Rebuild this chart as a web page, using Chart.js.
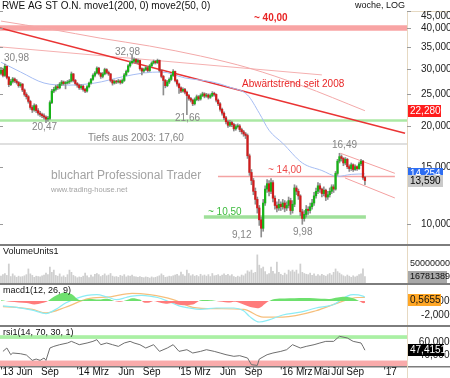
<!DOCTYPE html>
<html>
<head>
<meta charset="utf-8">
<title>RWE AG ST O.N. Wochenchart</title>
<script src="https://cdn.jsdelivr.net/npm/chart.js@4"></script>
<style>
  html, body { margin: 0; padding: 0; background: #fff; }
  #rahmen { position: relative; width: 450px; height: 378px; overflow: hidden; }
  #rahmen canvas { position: absolute; left: 0; }
</style>
</head>
<body>
<div id="rahmen">
  <canvas id="kurs" width="450" height="244" style="top:0"></canvas>
  <canvas id="volumen" width="450" height="39" style="top:244px"></canvas>
  <canvas id="macd" width="450" height="42" style="top:283px"></canvas>
  <canvas id="rsi" width="450" height="53" style="top:325px"></canvas>
</div>
<script>
const SCHRIFT = '"Liberation Sans", Arial, sans-serif';

// Wochen ab 15.03.2013 - 208 Spalten, die letzten bleiben leer (Platz bis '17)
const wochen = [];
let tag = new Date(Date.UTC(2013, 2, 15));
for (let i = 0; i < 208; i++) {
    wochen.push(tag.toISOString().slice(0, 10));
    tag = new Date(tag.getTime() + 7 * 86400000);
}

// Achsenbeschriftung unten
const monatsTexte = ["'13 Jun", "Sep", "'14 Mrz", "Jun", "Sep", "'15 Mrz", "Jun", "Sep", "'16 Mrz", "Mai", "Jul", "Sep", "'17"];
const monatsDaten = ['2013-06-01', '2013-09-01', '2014-03-01', '2014-06-01', '2014-09-01', '2015-03-01', '2015-06-01', '2015-09-01', '2016-03-01', '2016-05-01', '2016-07-01', '2016-09-01', '2017-01-01'];

// Kursachse (log)
const kursTicks = [10, 15, 20, 25, 30, 35, 40, 45];

// Wochenkerzen
const eroeffnung = [
    29.0,29.9,28.6,30.5,28.2,26.8,27.4,27.9,27.5,27.2,
    26.6,26.9,25.8,25.0,24.6,23.8,22.8,22.4,23.1,22.3,
    21.9,21.7,21.5,21.3,21.0,21.1,23.6,25.6,25.9,26.4,
    26.2,26.9,27.3,27.0,27.1,27.3,27.5,28.9,27.6,27.0,
    26.7,26.2,26.5,25.9,25.6,26.4,27.1,27.8,28.6,29.1,
    30.1,29.0,28.4,28.9,29.8,29.2,28.9,27.6,27.1,27.4,
    27.3,27.5,27.2,27.6,28.7,29.4,30.6,31.3,31.6,32.0,
    31.4,31.8,30.0,29.5,29.8,30.2,29.6,30.6,31.2,31.6,
    31.3,31.8,29.6,28.4,27.6,26.6,27.3,27.8,28.6,29.4,
    27.6,26.9,26.2,25.6,25.9,25.4,24.8,24.3,24.0,23.4,
    24.1,24.6,24.2,24.8,25.1,24.7,24.9,24.5,24.8,25.2,
    25.0,24.0,23.4,22.5,21.9,21.2,20.6,20.1,20.5,20.2,
    19.6,19.9,20.0,19.5,19.2,18.9,18.7,16.2,14.4,13.6,
    12.6,11.9,11.2,10.3,9.7,11.6,12.8,13.3,12.6,13.4,
    12.0,11.4,11.2,11.5,11.3,11.6,11.2,11.4,11.8,11.0,
    11.5,12.9,12.6,12.2,10.9,10.4,10.7,11.1,11.0,11.3,
    11.6,12.2,12.6,13.1,12.8,12.4,12.7,12.1,12.3,12.6,
    13.0,12.8,14.3,15.6,16.1,15.9,15.4,15.8,15.0,14.8,
    15.2,14.7,15.0,14.8,15.3,15.6,13.9
];
const hoch = [
    30.3,30.1,30.98,30.6,28.4,27.8,28.2,28.1,27.8,27.4,
    27.2,27.0,26.0,25.3,24.8,24.0,23.1,23.4,23.3,22.6,
    22.2,21.9,21.8,21.5,21.4,23.9,25.9,26.3,26.7,26.8,
    27.2,27.6,27.5,27.4,27.6,27.8,29.3,29.0,27.8,27.2,
    26.9,26.8,26.7,26.1,26.6,27.3,28.0,28.9,29.4,30.4,
    30.3,29.2,29.2,30.1,30.0,29.5,29.0,27.8,27.7,27.6,
    27.8,27.7,27.9,29.0,29.7,30.9,31.7,32.98,32.4,32.2,
    32.1,31.9,30.2,30.1,30.5,30.4,30.9,31.5,31.9,31.8,
    32.1,31.9,29.8,28.6,27.8,27.6,28.1,28.9,29.8,29.5,
    27.8,27.1,26.4,26.2,26.1,25.6,25.0,24.5,24.2,24.4,
    24.9,24.8,25.1,25.4,25.3,25.2,25.1,25.1,25.5,25.4,
    25.1,24.2,23.6,22.7,22.1,21.4,20.8,20.8,20.7,20.4,
    20.2,20.3,20.2,19.7,19.4,19.1,18.9,16.4,14.7,13.8,
    12.9,12.1,11.4,10.5,11.9,13.1,13.7,13.6,13.8,13.6,
    12.2,11.7,11.9,11.7,11.9,11.8,11.7,12.1,12.0,11.8,
    13.2,13.1,12.8,12.3,11.1,11.0,11.4,11.3,11.6,11.9,
    12.5,12.9,13.4,13.3,12.9,13.0,12.8,12.6,12.9,13.2,
    13.2,14.5,15.8,16.49,16.3,16.0,16.0,15.9,15.2,15.4,
    15.3,15.2,15.1,15.5,15.8,15.7,14.0
];
const tief = [
    28.7,28.3,28.4,27.9,26.4,26.6,27.1,27.2,26.9,26.3,
    26.3,25.5,24.7,24.2,23.5,22.5,22.0,22.2,22.0,21.6,
    21.4,21.2,21.0,20.47,20.7,20.9,23.4,25.3,25.6,25.9,
    26.0,26.6,26.7,26.0,26.9,27.0,27.3,27.3,26.7,26.3,
    25.9,25.9,25.6,25.3,25.4,26.2,26.9,27.6,28.3,28.9,
    28.7,28.0,28.1,28.7,28.9,28.6,27.3,26.7,26.9,27.0,
    27.1,26.9,27.0,27.4,28.5,29.2,30.3,31.0,31.3,31.1,
    31.2,29.7,28.7,29.2,29.6,29.3,29.4,30.4,31.0,31.0,
    31.1,29.3,28.1,24.9,26.2,26.4,27.0,27.6,28.4,27.3,
    26.5,25.2,25.3,25.4,25.1,21.66,24.0,23.7,23.1,23.2,
    23.9,23.9,24.0,24.6,24.4,24.5,24.2,24.3,24.6,24.7,
    23.7,23.1,22.2,21.6,20.9,20.3,19.8,19.9,19.9,19.3,
    19.4,19.7,19.2,18.9,18.6,18.3,15.9,14.1,13.2,12.3,
    11.5,10.8,9.9,9.12,9.5,11.4,12.5,12.2,12.4,11.7,
    11.1,10.9,11.0,11.0,11.1,10.9,11.0,11.2,10.7,10.8,
    11.3,12.3,11.9,10.6,9.98,10.2,10.5,10.7,10.8,11.1,
    11.4,12.0,12.4,12.5,12.1,12.2,11.8,11.9,12.1,12.4,
    12.5,12.7,14.1,15.4,15.6,15.1,15.2,14.8,14.5,14.6,
    14.5,14.6,14.6,14.7,15.1,13.7,13.2
];
const schluss = [
    29.9,28.6,30.5,28.2,26.8,27.4,27.9,27.5,27.2,26.6,
    26.9,25.8,25.0,24.6,23.8,22.8,22.4,23.1,22.3,21.9,
    21.7,21.5,21.3,21.0,21.1,23.6,25.6,25.9,26.4,26.2,
    26.9,27.3,27.0,27.1,27.3,27.5,28.9,27.6,27.0,26.7,
    26.2,26.5,25.9,25.6,26.4,27.1,27.8,28.6,29.1,30.1,
    29.0,28.4,28.9,29.8,29.2,28.9,27.6,27.1,27.4,27.3,
    27.5,27.2,27.6,28.7,29.4,30.6,31.3,31.6,32.0,31.4,
    31.8,30.0,29.5,29.8,30.2,29.6,30.6,31.2,31.6,31.3,
    31.8,29.6,28.4,27.6,26.6,27.3,27.8,28.6,29.4,27.6,
    26.9,26.2,25.6,25.9,25.4,24.8,24.3,24.0,23.4,24.1,
    24.6,24.2,24.8,25.1,24.7,24.9,24.5,24.8,25.2,25.0,
    24.0,23.4,22.5,21.9,21.2,20.6,20.1,20.5,20.2,19.6,
    19.9,20.0,19.5,19.2,18.9,18.7,16.2,14.4,13.6,12.6,
    11.9,11.2,10.3,9.7,11.6,12.8,13.3,12.6,13.4,12.0,
    11.4,11.2,11.5,11.3,11.6,11.2,11.4,11.8,11.0,11.5,
    12.9,12.6,12.2,10.9,10.4,10.7,11.1,11.0,11.3,11.6,
    12.2,12.6,13.1,12.8,12.4,12.7,12.1,12.3,12.6,13.0,
    12.8,14.3,15.6,16.1,15.9,15.4,15.8,15.0,14.8,15.2,
    14.7,15.0,14.8,15.3,15.6,13.9,13.59
];

const ma200Idx = [0, 25, 51, 76, 102, 127, 153, 186];
const ma200Werte = [42.0, 39.7, 37.2, 35.2, 32.8, 30.1, 26.7, 22.28];
const ma50Idx = [0, 10, 22, 34, 48, 62, 73, 82, 94, 108, 117, 126, 132, 137, 144, 154, 164, 172, 179, 186];
const ma50Werte = [31.4, 29.3, 27.1, 26.7, 27.1, 28.3, 29.1, 29.3, 28.1, 27.3, 26.3, 24.9, 21.9, 19.4, 17.7, 15.4, 14.6, 14.0, 14.2, 14.254];

// eingezeichnete Marken (Kurswerte) und Trendlinien [Wochenindex, Kurs]
const widerstand40 = 40.0;
const unterstuetzung = 20.8;
const tief2003 = 17.60;
const marke14 = 14.00;
const marke1050 = 10.50;
const abwaertstrend = [[-0.5, 40.0], [206.5, 19.0]];
const trendHell = [[-0.5, 35.0], [164, 28.7]];
const kanalOben = [[173.5, 16.49], [201.3, 14.31]];
const kanalUnten = [[175.8, 13.85], [201.3, 12.02]];

// Volumen in Mio. Stück
const volumenMio = [
    18,22,25,20,50,17,24,19,15,18,
    16,17,19,22,37,24,20,15,18,17,
    16,19,21,26,22,42,28,34,20,18,
    24,16,19,15,22,34,28,20,17,14,
    16,15,18,26,19,14,21,16,23,25,
    22,17,20,24,19,21,25,18,16,17,
    15,20,18,22,16,19,18,21,17,16,
    15,17,15,14,16,15,13,16,14,15,
    17,19,24,20,15,16,18,17,19,21,
    23,19,29,22,18,34,25,19,22,18,
    20,17,23,19,21,18,22,17,25,19,
    20,22,18,21,24,20,23,19,22,17,
    15,18,16,21,19,24,32,29,34,26,
    28,74,47,38,42,30,22,25,42,31,
    24,55,28,23,20,26,22,34,30,34,
    29,34,24,50,28,25,23,22,26,20,
    24,18,22,19,23,20,18,22,25,21,
    28,37,30,26,22,19,17,21,18,15,
    19,16,18,22,24,37,16.781389
];

// MACD (12, 26, 9)
const macdIdx = [1, 8, 16, 23, 28, 33, 39, 44, 49, 54, 59, 64, 67, 72, 76, 80, 85, 91, 96, 102, 110, 119, 124, 127, 132, 137, 144, 153, 161, 170, 177, 180, 185, 186];
const macdWerte = [-0.7, -0.9, -1.3, -1.8, -1.2, -0.3, 0.4, 0.8, 0.9, 0.6, 0.2, 0.5, 0.7, 0.8, 0.7, 0.5, 0.0, -0.7, -1.0, -1.2, -1.0, -1.0, -1.4, -2.2, -3.0, -2.7, -2.0, -1.6, -1.0, -0.5, 0.7, 0.9, 0.7, 0.5655];
const signalIdx = [1, 8, 16, 23, 33, 44, 56, 67, 76, 88, 98, 110, 124, 134, 144, 161, 173, 182, 186];
const signalWerte = [-0.8, -0.9, -1.2, -1.7, -0.9, 0.3, 0.6, 1.1, 0.9, 0.2, -0.9, -1.1, -1.2, -2.3, -2.3, -1.4, -0.2, 0.5, 0.5];
const histIdx = [0, 5, 13, 17, 21, 24, 27, 32, 36, 39, 41, 45, 50, 55, 58, 61, 64, 67, 71, 73, 76, 78, 82, 85, 88, 90, 94, 98, 100, 102, 107, 110, 116, 120, 124, 128, 132, 135, 137, 140, 150, 160, 168, 172, 176, 180, 183, 185, 186];
const histWerte = [0.1, -0.1, -0.3, -0.5, -0.3, 0, 0.6, 1.2, 1.0, 0.3, 0.1, 0.3, 0.2, 0.3, 0, -0.1, 0.1, 0.4, 0.2, -0.2, -0.2, 0, -0.3, -0.4, -0.3, -0.5, -0.6, -0.5, -0.2, 0.1, 0.1, 0, -0.2, -0.1, -0.5, -0.9, -1.0, -0.4, 0, 0.3, 0.4, 0.4, 0.3, 0.5, 0.6, 0.4, 0, -0.3, -0.3];

// RSI (14, 70, 30, 1)
const rsiIdx = [1,3,5,6,10,13,16,18,20,22,23,25,27,30,34,36,38,40,44,47,49,51,54,57,60,63,66,68,71,74,78,81,85,88,91,95,98,102,105,109,112,115,119,122,126,128,131,132,136,139,143,146,149,153,156,160,163,166,170,172,173,177,180,184,185,186];
const rsiWerte = [45.6,50.8,40.5,43.1,42.0,40.0,31.8,33.8,31.8,35.4,31.8,50.8,53.3,55.9,58.5,61.0,58.5,55.9,58.5,61.0,63.6,55.9,58.5,55.9,53.3,58.5,61.0,58.5,55.9,50.8,55.9,45.6,50.8,55.9,45.6,48.2,43.1,45.6,48.2,45.6,43.1,40.5,38.0,39.0,35.4,25.1,24.0,33.8,40.5,43.1,45.6,48.2,55.9,50.8,53.3,55.9,58.5,61.0,61.0,66.2,68.8,66.2,61.0,58.5,53.3,47.4151];
const rsiBandOben = [64.8, 70.5];
const rsiBandUnten = [23.1, 31.5];

// kurze Prüfung, damit nichts verrutscht
[[eroeffnung, 'eroeffnung'], [hoch, 'hoch'], [tief, 'tief'], [volumenMio, 'volumen']].forEach(([a, n]) => {
    if (a.length !== schluss.length) throw new Error(n + ' hat ' + a.length + ' statt ' + schluss.length);
});
[[ma200Idx, ma200Werte], [ma50Idx, ma50Werte], [macdIdx, macdWerte], [signalIdx, signalWerte], [histIdx, histWerte], [rsiIdx, rsiWerte]].forEach(([a, b], k) => {
    if (a.length !== b.length) throw new Error('Stützpunkte ' + k + ': ' + a.length + '/' + b.length);
});

const GRUEN = '#17b317';
const ROT = '#d01c1c';
const letzte = schluss.length - 1;

//---------------- Hilfsfunktionen ----------------
function punkte(idx, werte) {
    return idx.map((i, k) => ({ x: wochen[i], y: werte[k] }));
}
function schreibe(ctx, txt, x, y, farbe, font, align) {
    ctx.font = font;
    ctx.fillStyle = farbe;
    ctx.textAlign = align || 'left';
    ctx.textBaseline = 'middle';
    ctx.fillText(txt, x, y);
}
function strich(ctx, x1, y1, x2, y2, farbe, breite) {
    ctx.beginPath();
    ctx.strokeStyle = farbe;
    ctx.lineWidth = breite;
    ctx.moveTo(x1, y1);
    ctx.lineTo(x2, y2);
    ctx.stroke();
}
function wertBox(ctx, txt, y, hg, vg, breite, font) {
    ctx.fillStyle = hg;
    ctx.fillRect(408, Math.round(y) - 6, breite, 12);
    schreibe(ctx, txt, 410, Math.round(y), vg, font || '10px ' + SCHRIFT);
}
function komma(v, n) {
    return v.toFixed(n).replace('.', ',');
}
function trenner(ctx, y) {
    ctx.fillStyle = '#7d7d7d';
    ctx.fillRect(0, y, 450, 2);
}
function basisOptionen(yAchse, untenPlatz) {
    return {
        responsive: false,
        animation: false,
        events: [],
        layout: { padding: { left: 0, right: 43, top: 0, bottom: untenPlatz || 0 } },
        plugins: { legend: { display: false }, tooltip: { enabled: false } },
        scales: {
            x: { type: 'category', offset: true, display: false },
            y: yAchse
        }
    };
}

//---------------- Kurs ----------------
const kursDeko = {
    id: 'kursDeko',
    beforeDatasetsDraw(chart) {
        const { ctx, chartArea: a, scales: { x, y } } = chart;
        const px = i => x.getPixelForValue(i);
        ctx.save();
        ctx.beginPath();
        ctx.rect(a.left, a.top, a.right - a.left, a.bottom - a.top);
        ctx.clip();

        // Wasserzeichen
        schreibe(ctx, 'bluchart Professional Trader', 51, 176, '#a3a3a3', '12px ' + SCHRIFT);
        schreibe(ctx, 'www.trading-house.net', 51, 190, '#a3a3a3', '7.5px ' + SCHRIFT);

        // waagrechte Marken
        ctx.lineCap = 'butt';
        strich(ctx, a.left, y.getPixelForValue(widerstand40), a.right, y.getPixelForValue(widerstand40), '#f8a4a4', 5.5);
        strich(ctx, a.left, y.getPixelForValue(unterstuetzung), a.right, y.getPixelForValue(unterstuetzung), '#abe8a4', 2.5);
        strich(ctx, a.left, y.getPixelForValue(tief2003), a.right, y.getPixelForValue(tief2003), '#d4d4d4', 1.5);
        strich(ctx, px(110.9), y.getPixelForValue(marke14), px(201.3), y.getPixelForValue(marke14), '#f4a3a3', 1.5);
        strich(ctx, px(103.7), y.getPixelForValue(marke1050), px(186.5), y.getPixelForValue(marke1050), '#9fe09a', 3.5);

        // Trendlinien
        const linie = (p, farbe, breite) => strich(ctx, px(p[0][0]), y.getPixelForValue(p[0][1]), px(p[1][0]), y.getPixelForValue(p[1][1]), farbe, breite);
        linie(trendHell, '#f5b0b0', 1);
        linie(kanalOben, '#f4a0a0', 1);
        linie(kanalUnten, '#f4a0a0', 1);
        linie(abwaertstrend, '#ea3434', 1.5);
        ctx.restore();
    },
    afterDraw(chart) {
        const { ctx, scales: { y } } = chart;
        ctx.save();
        const grau = '#858585';
        const f10 = '10px ' + SCHRIFT;

        // Beschriftungen im Chart
        schreibe(ctx, '~ 40,00', 254, 18, '#e82626', 'bold 10px ' + SCHRIFT);
        schreibe(ctx, 'Abwärtstrend seit 2008', 242, 84, '#e82626', f10);
        schreibe(ctx, '~ 14,00', 268, 170, '#ee4a4a', f10);
        schreibe(ctx, '~ 10,50', 208, 212, '#3dbb3d', f10);
        schreibe(ctx, '30,98', 4, 58, grau, f10);
        schreibe(ctx, '32,98', 115, 52, grau, f10);
        schreibe(ctx, '20,47', 32, 127, grau, f10);
        schreibe(ctx, '21,66', 175, 118, grau, f10);
        schreibe(ctx, 'Tiefs aus 2003: 17,60', 88, 138, grau, f10);
        schreibe(ctx, '16,49', 332, 145, grau, f10);
        schreibe(ctx, '9,12', 232, 235, grau, f10);
        schreibe(ctx, '9,98', 293, 232, grau, f10);

        // Kopfzeile
        ctx.fillStyle = '#fff';
        ctx.fillRect(408, 0, 42, 11);
        schreibe(ctx, 'RWE AG ST O.N. move1(200, 0) move2(50, 0)', 2, 6, '#111', '10px ' + SCHRIFT);
        schreibe(ctx, 'woche, LOG', 405, 6, '#111', '9px ' + SCHRIFT, 'right');

        // rechte Achse
        strich(ctx, 407.5, 11, 407.5, 244, '#e6d9c2', 1);
        strich(ctx, 407, 11.5, 450, 11.5, '#e6d9c2', 1);
        kursTicks.forEach(v => {
            const py = Math.round(y.getPixelForValue(v)) + 0.5;
            strich(ctx, 0, py, 3, py, '#9a9a9a', 1);
            strich(ctx, 407, py, 411, py, '#9a9a9a', 1);
            schreibe(ctx, komma(v, 3), 421, Math.max(py, 16), '#222', f10);
        });
        wertBox(ctx, komma(ma200Werte[ma200Werte.length - 1], 3), y.getPixelForValue(ma200Werte[ma200Werte.length - 1]), '#ff1c1c', '#fff', 33);
        wertBox(ctx, komma(ma50Werte[ma50Werte.length - 1], 3), y.getPixelForValue(ma50Werte[ma50Werte.length - 1]), '#2d6df2', '#fff', 35);
        wertBox(ctx, komma(schluss[letzte], 3), y.getPixelForValue(schluss[letzte]), '#c9c9c9', '#000', 35);
        ctx.restore();
    }
};

new Chart(document.getElementById('kurs'), {
    type: 'bar',
    data: {
        labels: wochen,
        datasets: [
            {
                label: 'Kerzenkörper',
                data: schluss.map((c, i) => [eroeffnung[i], c]),
                backgroundColor: schluss.map((c, i) => c >= eroeffnung[i] ? GRUEN : ROT),
                barThickness: 1.6,
                minBarLength: 1,
                grouped: false,
                order: 0
            },
            {
                label: 'Dochte',
                data: hoch.map((h, i) => [tief[i], h]),
                backgroundColor: '#8e8e8e',
                barThickness: 1,
                grouped: false,
                order: 1
            },
            {
                type: 'line',
                label: 'move1(200, 0)',
                data: punkte(ma200Idx, ma200Werte),
                borderColor: '#f3a9a9',
                borderWidth: 1,
                pointRadius: 0,
                cubicInterpolationMode: 'monotone',
                order: 3
            },
            {
                type: 'line',
                label: 'move2(50, 0)',
                data: punkte(ma50Idx, ma50Werte),
                borderColor: '#a6bdf3',
                borderWidth: 1,
                pointRadius: 0,
                cubicInterpolationMode: 'monotone',
                order: 2
            }
        ]
    },
    options: basisOptionen({ type: 'logarithmic', display: false, min: 8.681, max: 48.75 }),
    plugins: [kursDeko]
});

//---------------- Volumen ----------------
const volDeko = {
    id: 'volDeko',
    afterDraw(chart) {
        const { ctx, scales: { y } } = chart;
        ctx.save();
        trenner(ctx, 0);
        strich(ctx, 407.5, 2, 407.5, 39, '#e6d9c2', 1);
        schreibe(ctx, 'VolumeUnits1', 3, 8, '#111', '9px ' + SCHRIFT);
        schreibe(ctx, '50000000', 410, y.getPixelForValue(50), '#222', '9px ' + SCHRIFT);
        wertBox(ctx, String(Math.round(volumenMio[letzte] * 1e6)), Math.min(y.getPixelForValue(volumenMio[letzte]) + 2, 33), '#a8a8a8', '#111', 39, '9px ' + SCHRIFT);
        ctx.restore();
    }
};

new Chart(document.getElementById('volumen'), {
    type: 'bar',
    data: {
        labels: wochen,
        datasets: [{
            label: 'VolumeUnits1',
            data: volumenMio,
            backgroundColor: '#cfcfcf',
            barThickness: 1.1
        }]
    },
    options: basisOptionen({ type: 'linear', display: false, min: 0, max: 102.6 }),
    plugins: [volDeko]
});

//---------------- MACD ----------------
const macdDeko = {
    id: 'macdDeko',
    afterDraw(chart) {
        const { ctx, scales: { y } } = chart;
        ctx.save();
        trenner(ctx, 0);
        strich(ctx, 407.5, 2, 407.5, 42, '#e6d9c2', 1);
        schreibe(ctx, 'macd1(12, 26, 9)', 3, 8, '#111', '9px ' + SCHRIFT);
        schreibe(ctx, '0,0000', 455, y.getPixelForValue(0), '#222', '10px ' + SCHRIFT, 'right');
        schreibe(ctx, '-2,0000', 455, y.getPixelForValue(-2), '#222', '10px ' + SCHRIFT, 'right');
        wertBox(ctx, komma(macdWerte[macdWerte.length - 1], 4), y.getPixelForValue(0) - 1, '#ffa726', '#111', 33);
        ctx.restore();
    }
};

new Chart(document.getElementById('macd'), {
    type: 'line',
    data: {
        labels: wochen,
        datasets: [
            {
                label: 'Histogramm',
                data: punkte(histIdx, histWerte),
                borderWidth: 0,
                pointRadius: 0,
                tension: 0.3,
                fill: { target: 'origin', above: '#6ee06e', below: '#ff7b7b' }
            },
            {
                label: 'MACD',
                data: punkte(macdIdx, macdWerte),
                borderColor: '#8cecf5',
                borderWidth: 1.2,
                pointRadius: 0,
                cubicInterpolationMode: 'monotone'
            },
            {
                label: 'Signal',
                data: punkte(signalIdx, signalWerte),
                borderColor: '#f6bf7c',
                borderWidth: 1.2,
                pointRadius: 0,
                cubicInterpolationMode: 'monotone'
            }
        ]
    },
    options: basisOptionen({ type: 'linear', display: false, min: -3.43, max: 2.57 }),
    plugins: [macdDeko]
});

//---------------- RSI ----------------
const rsiDeko = {
    id: 'rsiDeko',
    beforeDatasetsDraw(chart) {
        const { ctx, chartArea: a, scales: { y } } = chart;
        ctx.save();
        ctx.fillStyle = '#aaf0a4';
        ctx.fillRect(a.left, y.getPixelForValue(rsiBandOben[1]), a.right - a.left, y.getPixelForValue(rsiBandOben[0]) - y.getPixelForValue(rsiBandOben[1]));
        ctx.fillStyle = '#f9abab';
        ctx.fillRect(a.left, y.getPixelForValue(rsiBandUnten[1]), a.right - a.left, y.getPixelForValue(rsiBandUnten[0]) - y.getPixelForValue(rsiBandUnten[1]));
        ctx.restore();
    },
    afterDraw(chart) {
        const { ctx, chartArea: a, scales: { x, y } } = chart;
        ctx.save();
        trenner(ctx, 0);
        ctx.fillStyle = '#7d7d7d';
        ctx.fillRect(0, a.bottom, 450, 1.5);
        strich(ctx, 407.5, 2, 407.5, 53, '#e6d9c2', 1);
        schreibe(ctx, 'rsi1(14, 70, 30, 1)', 3, 8, '#111', '9px ' + SCHRIFT);
        schreibe(ctx, '60,0000', 455, y.getPixelForValue(60), '#222', '10px ' + SCHRIFT, 'right');
        schreibe(ctx, '40,0000', 455, y.getPixelForValue(40), '#222', '10px ' + SCHRIFT, 'right');
        wertBox(ctx, komma(rsiWerte[rsiWerte.length - 1], 4), y.getPixelForValue(rsiWerte[rsiWerte.length - 1]), '#000', '#fff', 36);

        // Zeitachse
        const f10 = '10px ' + SCHRIFT;
        ctx.font = f10;
        monatsTexte.forEach((t, k) => {
            const i = wochen.findIndex(w => w >= monatsDaten[k]);
            const xp = x.getPixelForValue(i);
            const teile = t.split(' ');
            const monat = teile[teile.length - 1];
            const w = ctx.measureText(monat).width;
            schreibe(ctx, monat, xp, 47.5, '#111', f10, 'center');
            if (teile.length > 1) schreibe(ctx, teile[0] + ' ', xp - w / 2, 47.5, '#111', f10, 'right');
            strich(ctx, Math.round(xp) + 0.5, a.bottom, Math.round(xp) + 0.5, a.bottom + 3, '#7d7d7d', 1);
        });
        ctx.restore();
    }
};

new Chart(document.getElementById('rsi'), {
    type: 'line',
    data: {
        labels: wochen,
        datasets: [{
            label: 'rsi1',
            data: punkte(rsiIdx, rsiWerte),
            borderColor: '#6e6e6e',
            borderWidth: 1,
            pointRadius: 0,
            tension: 0
        }]
    },
    options: basisOptionen({ type: 'linear', display: false, min: 23.1, max: 86.2 }, 12),
    plugins: [rsiDeko]
});
</script>
</body>
</html>
